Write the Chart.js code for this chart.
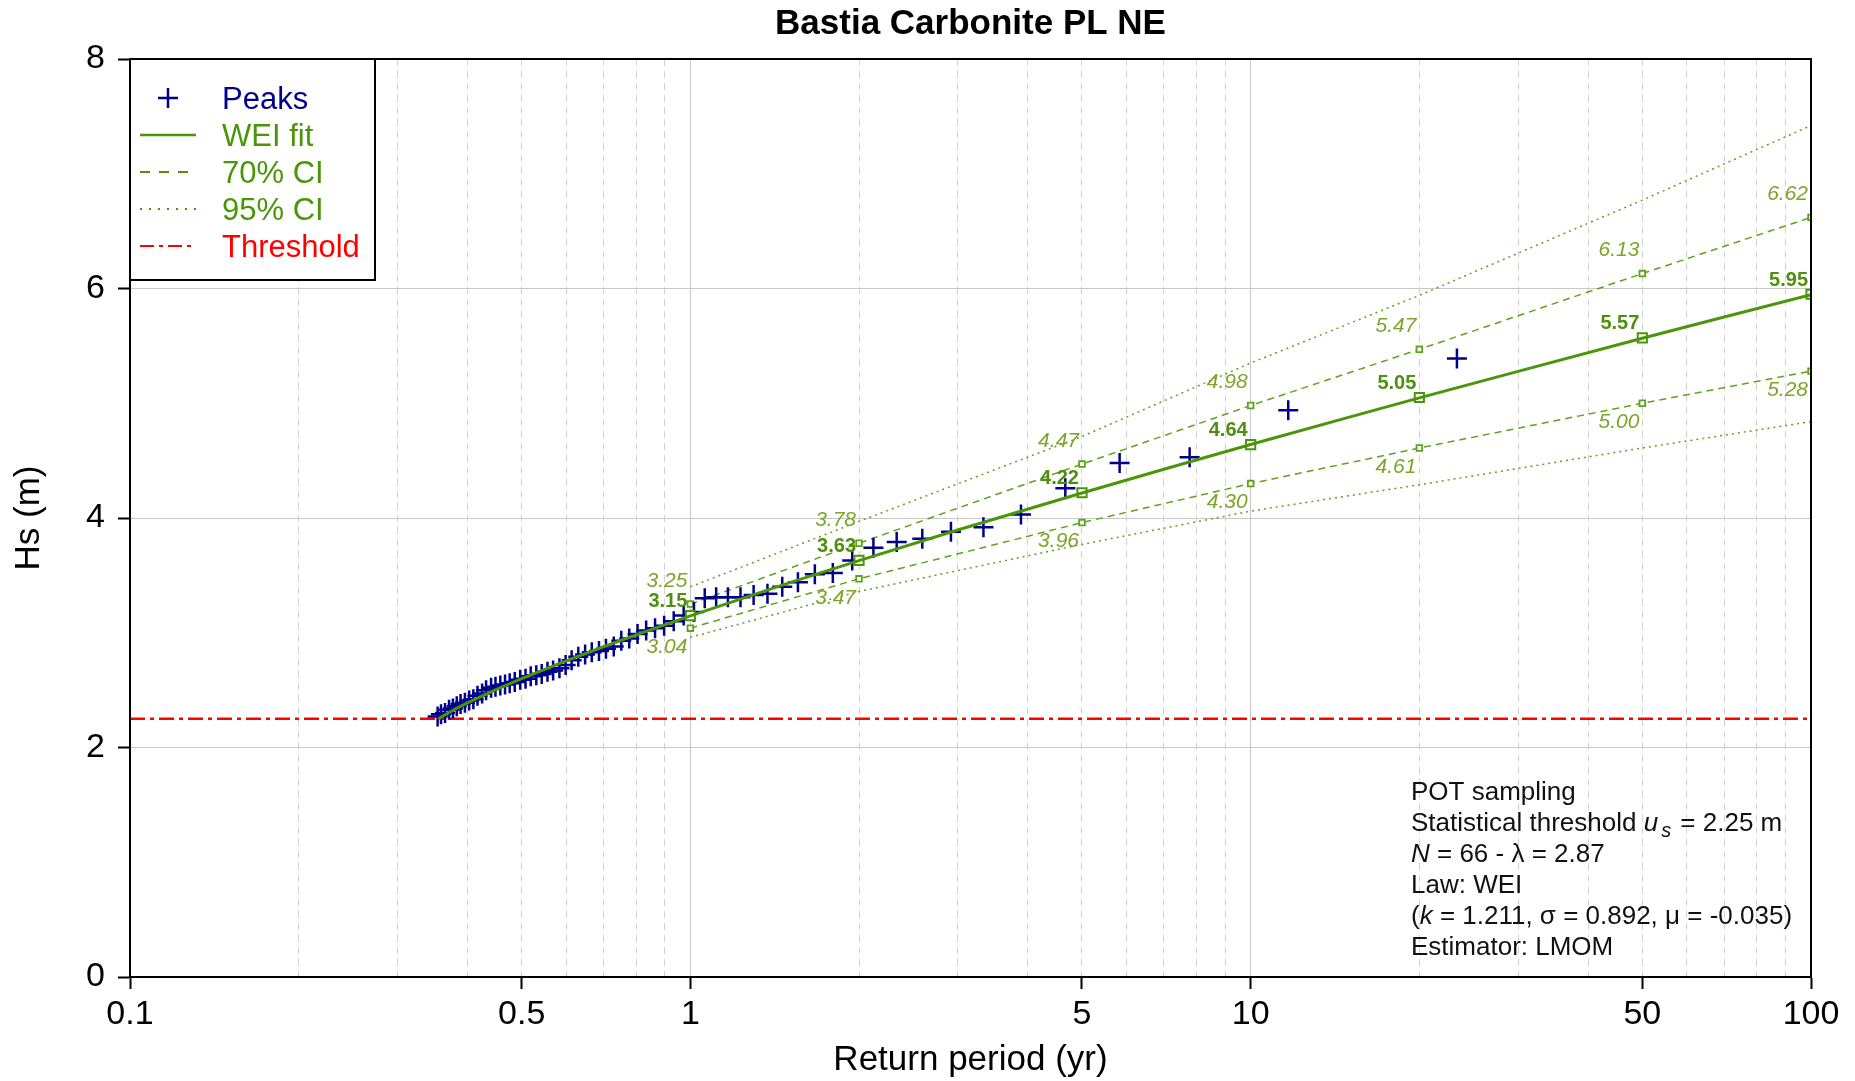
<!DOCTYPE html>
<html>
<head>
<meta charset="utf-8">
<script src="https://cdn.jsdelivr.net/npm/chart.js@4.4.1/dist/chart.umd.min.js"></script>
<style>
  html, body { margin: 0; padding: 0; background: #fff; overflow: hidden; }
  canvas { display: block; }
</style>
</head>
<body>
<canvas id="Chart1" width="1855" height="1081" style="width:1855px;height:1081px"></canvas>
<script>
// peaks over threshold: return period (yr) / Hs (m)
var peakT = [0.354, 0.359, 0.365, 0.371, 0.377, 0.383, 0.389, 0.396, 0.403, 0.410,
             0.417, 0.425, 0.432, 0.441, 0.449, 0.458, 0.467, 0.476, 0.486, 0.497,
             0.508, 0.519, 0.531, 0.543, 0.556, 0.569, 0.584, 0.599, 0.614, 0.631,
             0.649, 0.667, 0.687, 0.707, 0.730, 0.753, 0.778, 0.805, 0.834, 0.865,
             0.898, 0.934, 0.973, 1.015, 1.061, 1.112, 1.167, 1.229, 1.297, 1.373,
             1.459, 1.556, 1.668, 1.796, 1.945, 2.122, 2.335, 2.594, 2.918, 3.335,
             3.891, 4.669, 5.836, 7.782, 11.67, 23.34];
var peakHs = [2.27, 2.29, 2.30, 2.33, 2.34, 2.36, 2.38, 2.39, 2.41, 2.42,
              2.45, 2.47, 2.50, 2.52, 2.53, 2.54, 2.55, 2.56, 2.57, 2.59,
              2.60, 2.62, 2.63, 2.64, 2.66, 2.67, 2.69, 2.72, 2.76, 2.79,
              2.81, 2.83, 2.84, 2.86, 2.88, 2.93, 2.95, 2.99, 3.02, 3.04,
              3.06, 3.10, 3.15, 3.18, 3.30, 3.31, 3.31, 3.31, 3.33, 3.34,
              3.40, 3.44, 3.51, 3.52, 3.63, 3.74, 3.79, 3.82, 3.88, 3.92,
              4.03, 4.26, 4.48, 4.53, 4.94, 5.39];

// WEI fit curve
var fitT  = [0.355, 0.36, 0.38, 0.4, 0.45, 0.5, 0.6, 0.7, 0.8, 0.9, 1, 1.5, 2, 3, 5, 7, 10, 15, 20, 30, 50, 70, 100];
var fitHs = [2.248, 2.268, 2.333, 2.389, 2.504, 2.600, 2.754, 2.878, 2.981, 3.069, 3.147, 3.434, 3.629, 3.895,
             4.218, 4.425, 4.640, 4.879, 5.047, 5.278, 5.566, 5.752, 5.947];

// return levels and confidence intervals
var ciT     = [1, 2, 5, 10, 20, 50, 100];
var fitMark = [3.15, 3.63, 4.22, 4.64, 5.05, 5.57, 5.95];
var ci70Up  = [3.25, 3.78, 4.47, 4.98, 5.47, 6.13, 6.62];
var ci70Lo  = [3.04, 3.47, 3.96, 4.30, 4.61, 5.00, 5.28];
var ci95Up  = [3.40, 3.97, 4.71, 5.35, 5.94, 6.77, 7.42];
var ci95Lo  = [2.96, 3.36, 3.77, 4.06, 4.29, 4.61, 4.84];

var threshold = 2.25;
var thrT = [0.1, 100];

// axes
var xTickLabels = [0.1, 0.5, 1, 5, 10, 50, 100];
var xMajorGrid  = [0.1, 1, 10, 100];
var xGrid = [0.1, 0.2, 0.3, 0.4, 0.5, 0.6, 0.7, 0.8, 0.9,
             1, 2, 3, 4, 5, 6, 7, 8, 9,
             10, 20, 30, 40, 50, 60, 70, 80, 90, 100];
var yTicks = [0, 2, 4, 6, 8];

var fam = '"Liberation Sans", Arial, sans-serif';
var navy = '#00008B';
var green = '#4a9608';
var ciGreen = '#5fa31c';
var labGreen = '#7ea42a';
var red = '#ff0000';

function pts(xs, ys) {
    return xs.map(function(x, i) { return {x: x, y: ys[i]}; });
}

function rich(ctx, x, y, parts) {
    parts.forEach(function(p) {
        var size = p.sub ? 20 : 26;
        ctx.font = (p.it ? 'italic ' : '') + size + 'px ' + fam;
        ctx.fillText(p.t, x + (p.sub ? 3 : 0), y + (p.sub ? 7 : 0));
        x += ctx.measureText(p.t).width + (p.sub ? 5 : 0);
    });
}

var extras = {
    id: 'extras',
    beforeDraw: function(chart) {
        var ctx = chart.ctx;
        ctx.save();
        ctx.fillStyle = '#fff';
        ctx.fillRect(0, 0, chart.width, chart.height);
        ctx.restore();
    },
    afterDatasetsDraw: function(chart) {
        var ctx = chart.ctx, xs = chart.scales.x, ys = chart.scales.y, a = chart.chartArea;
        ctx.save();

        // return level labels
        ctx.textAlign = 'right';
        ctx.textBaseline = 'middle';
        ciT.forEach(function(t, i) {
            var px = xs.getPixelForValue(t) - 3;
            ctx.font = 'italic 21px ' + fam;
            ctx.fillStyle = labGreen;
            ctx.fillText(ci70Up[i].toFixed(2), px, ys.getPixelForValue(ci70Up[i]) - 23);
            ctx.fillText(ci70Lo[i].toFixed(2), px, ys.getPixelForValue(ci70Lo[i]) + 19);
            ctx.font = 'bold 20px ' + fam;
            ctx.fillStyle = '#4f8f10';
            ctx.fillText(fitMark[i].toFixed(2), px, ys.getPixelForValue(fitMark[i]) - 14);
        });

        // frame
        ctx.strokeStyle = '#000';
        ctx.lineWidth = 2;
        ctx.strokeRect(a.left, a.top, a.right - a.left, a.bottom - a.top);

        // legend
        var lx = a.left, ly = a.top;
        ctx.fillStyle = '#fff';
        ctx.fillRect(lx, ly, 245, 221);
        ctx.strokeRect(lx, ly, 245, 221);
        var rows = [
            {txt: 'Peaks', col: navy},
            {txt: 'WEI fit', col: green, dash: [], lw: 2.5},
            {txt: '70% CI', col: green, dash: [10, 9], lw: 2},
            {txt: '95% CI', col: green, dash: [2, 7], lw: 2},
            {txt: 'Threshold', col: red, dash: [14, 5, 4, 5], lw: 2}
        ];
        ctx.textAlign = 'left';
        ctx.font = '31px ' + fam;
        rows.forEach(function(r, i) {
            var y = ly + 39 + i * 37;
            ctx.strokeStyle = r.col;
            if (i === 0) {
                ctx.setLineDash([]);
                ctx.lineWidth = 2.5;
                ctx.beginPath();
                ctx.moveTo(lx + 28, y); ctx.lineTo(lx + 48, y);
                ctx.moveTo(lx + 38, y - 10); ctx.lineTo(lx + 38, y + 10);
                ctx.stroke();
            } else {
                ctx.setLineDash(r.dash);
                ctx.lineWidth = r.lw;
                ctx.beginPath();
                ctx.moveTo(lx + 10, y); ctx.lineTo(lx + 66, y);
                ctx.stroke();
            }
            ctx.fillStyle = r.col;
            ctx.fillText(r.txt, lx + 92, y + 2);
        });
        ctx.setLineDash([]);

        // fit information
        ctx.fillStyle = '#111';
        var sx = a.right - 400, sy = a.bottom - 184, lh = 31;
        rich(ctx, sx, sy, [{t: 'POT sampling'}]);
        rich(ctx, sx, sy + lh, [{t: 'Statistical threshold '}, {t: 'u', it: true}, {t: 's', it: true, sub: true},
                                {t: ' = ' + threshold.toFixed(2) + ' m'}]);
        rich(ctx, sx, sy + 2 * lh, [{t: 'N', it: true}, {t: ' = ' + peakT.length + ' - \u03bb = 2.87'}]);
        rich(ctx, sx, sy + 3 * lh, [{t: 'Law: WEI'}]);
        rich(ctx, sx, sy + 4 * lh, [{t: '('}, {t: 'k', it: true}, {t: ' = 1.211, \u03c3 = 0.892, \u03bc = -0.035)'}]);
        rich(ctx, sx, sy + 5 * lh, [{t: 'Estimator: LMOM'}]);

        ctx.restore();
    },
    afterDraw: function(chart) {
        var ctx = chart.ctx, a = chart.chartArea;
        ctx.save();
        ctx.font = 'bold 35px ' + fam;
        ctx.fillStyle = '#000';
        ctx.textAlign = 'center';
        ctx.textBaseline = 'middle';
        ctx.fillText('Bastia Carbonite PL NE', (a.left + a.right) / 2, 24);
        ctx.restore();
    }
};

window.onload = function() {

    Chart.defaults.font.family = fam;
    Chart.defaults.color = '#000';

    var ctx = document.getElementById('Chart1').getContext('2d');
    var myChart = new Chart(ctx, {
        type: 'scatter',
        data: {
            datasets: [{
                label: 'WEI fit',
                data: pts(fitT, fitHs),
                showLine: true,
                borderColor: green,
                borderWidth: 3,
                pointRadius: 0
            }, {
                label: 'fit levels',
                data: pts(ciT, fitMark),
                showLine: false,
                pointStyle: 'rect',
                pointRadius: 6.5,
                borderColor: green,
                borderWidth: 2,
                backgroundColor: '#fff'
            }, {
                label: 'Peaks',
                data: pts(peakT, peakHs),
                showLine: false,
                pointStyle: 'cross',
                pointRadius: 10,
                borderColor: navy,
                borderWidth: 2.5
            }, {
                label: '70% CI up',
                data: pts(ciT, ci70Up),
                showLine: true,
                borderColor: ciGreen,
                borderWidth: 1.5,
                borderDash: [7, 5],
                pointStyle: 'rect',
                pointRadius: 4,
                pointBorderWidth: 1.8,
                backgroundColor: '#fff'
            }, {
                label: '70% CI low',
                data: pts(ciT, ci70Lo),
                showLine: true,
                borderColor: ciGreen,
                borderWidth: 1.5,
                borderDash: [7, 5],
                pointStyle: 'rect',
                pointRadius: 4,
                pointBorderWidth: 1.8,
                backgroundColor: '#fff'
            }, {
                label: '95% CI up',
                data: pts(ciT, ci95Up),
                showLine: true,
                borderColor: ciGreen,
                borderWidth: 1.5,
                borderDash: [2, 4],
                pointRadius: 0
            }, {
                label: '95% CI low',
                data: pts(ciT, ci95Lo),
                showLine: true,
                borderColor: ciGreen,
                borderWidth: 1.5,
                borderDash: [2, 4],
                pointRadius: 0
            }, {
                label: 'Threshold',
                data: pts(thrT, [threshold, threshold]),
                showLine: true,
                borderColor: red,
                borderWidth: 2.5,
                borderDash: [15, 5, 4, 5],
                pointRadius: 0
            }]
        },
        options: {
            responsive: false,
            devicePixelRatio: 1,
            animation: false,
            events: [],
            layout: { padding: { top: 59, right: 44, left: 0, bottom: 0 } },
            scales: {
                x: {
                    type: 'logarithmic',
                    min: 0.1,
                    max: 100,
                    afterBuildTicks: function(s) {
                        s.ticks = xGrid.map(function(v) { return {value: v}; });
                    },
                    afterFit: function(s) { s.height = 104; },
                    ticks: {
                        autoSkip: false,
                        maxRotation: 0,
                        padding: 5,
                        font: { size: 34 },
                        callback: function(v) {
                            return xTickLabels.indexOf(v) >= 0 ? String(v) : '';
                        }
                    },
                    grid: {
                        color: function(c) {
                            return c.tick && xMajorGrid.indexOf(c.tick.value) >= 0 ? '#c4c4c4' : '#d2d2d2';
                        },
                        lineWidth: 1,
                        tickLength: 12,
                        tickWidth: 2,
                        tickColor: function(c) {
                            return c.tick && xTickLabels.indexOf(c.tick.value) >= 0 ? '#000' : 'rgba(0,0,0,0)';
                        }
                    },
                    border: {
                        color: '#000',
                        width: 2,
                        dash: function(c) {
                            return c.tick && xMajorGrid.indexOf(c.tick.value) < 0 ? [7, 5] : [];
                        }
                    },
                    title: {
                        display: true,
                        text: 'Return period (yr)',
                        font: { size: 35 },
                        padding: { top: 0, bottom: 0 }
                    }
                },
                y: {
                    min: 0,
                    max: 8,
                    afterBuildTicks: function(s) {
                        s.ticks = yTicks.map(function(v) { return {value: v}; });
                    },
                    afterFit: function(s) { s.width = 130; },
                    ticks: {
                        padding: 13,
                        font: { size: 34 }
                    },
                    grid: {
                        color: '#c8c8c8',
                        lineWidth: 1,
                        tickLength: 12,
                        tickWidth: 2,
                        tickColor: '#000'
                    },
                    border: { color: '#000', width: 2 },
                    title: {
                        display: true,
                        text: 'Hs (m)',
                        font: { size: 35 },
                        padding: { top: 8, bottom: 0 }
                    }
                }
            },
            plugins: {
                legend: { display: false },
                title: { display: false },
                tooltip: { enabled: false }
            }
        },
        plugins: [extras]
    });

//end code
}
</script>
</body>
</html>
